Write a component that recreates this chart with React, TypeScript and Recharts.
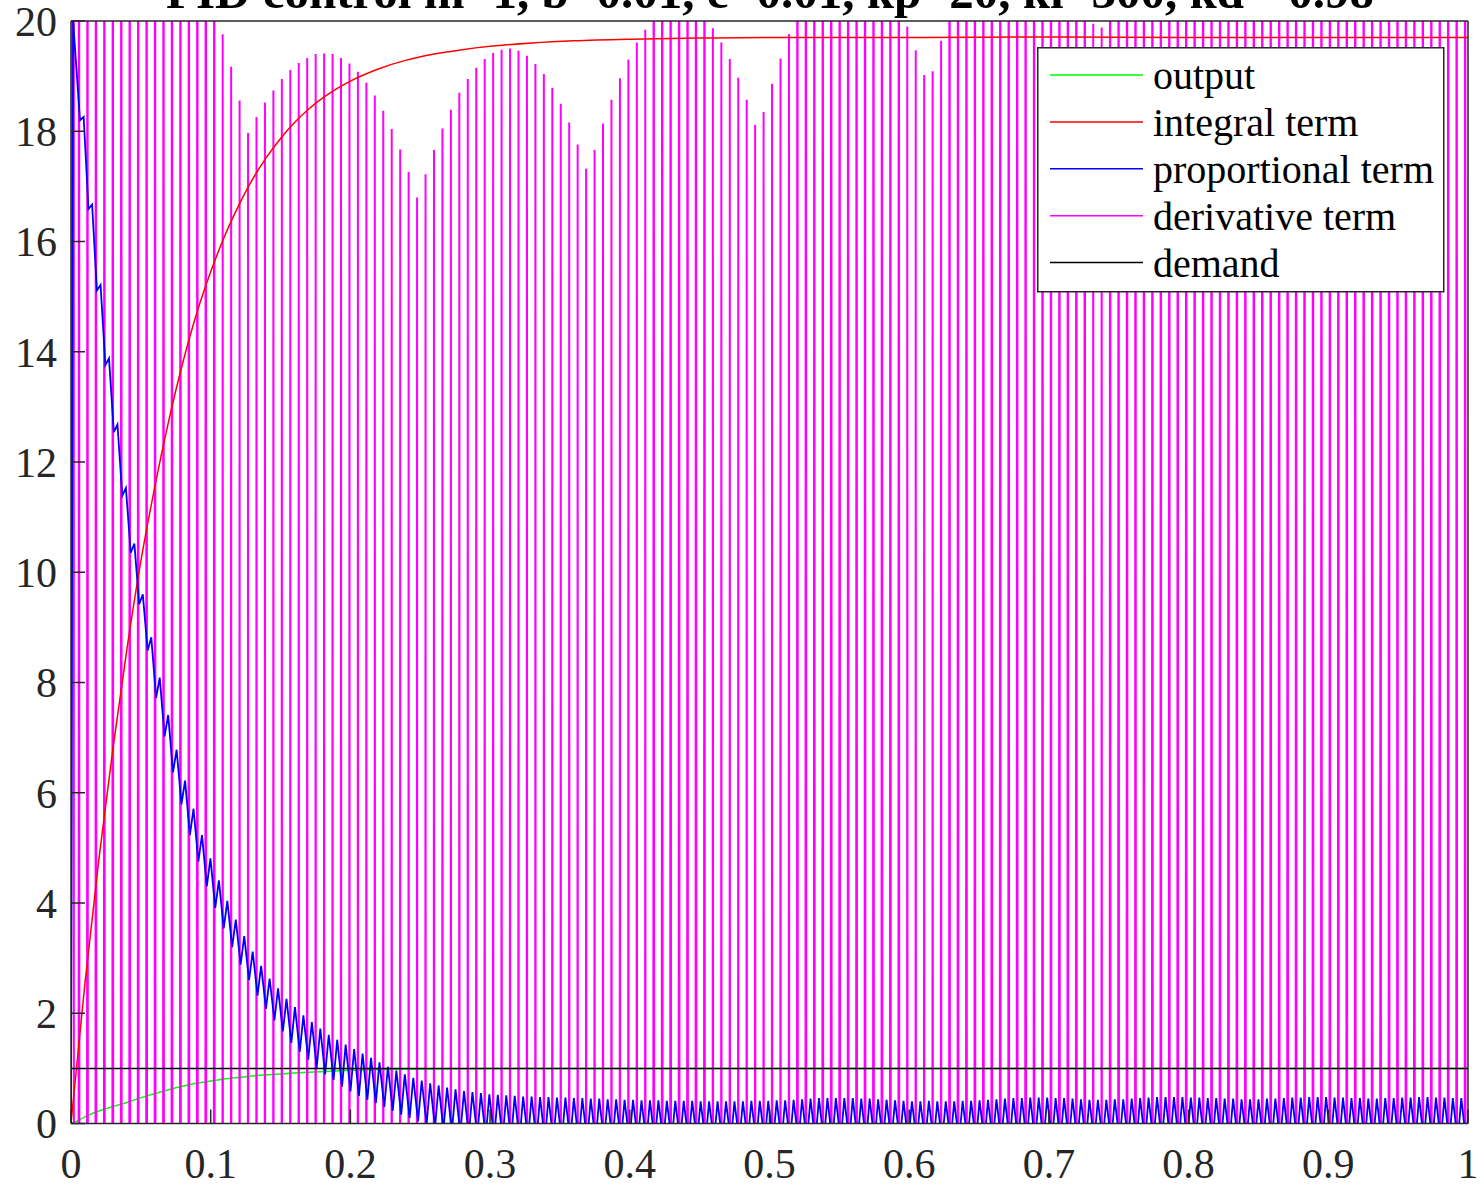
import { Legend, Line, LineChart, XAxis, YAxis } from "recharts";

// derivative spikes that shoot past the top of the axes, and the troughs far below them
const OFF = 40;
const DERIV_LOW = -400;

// spike grid: first spike and spacing, in seconds
const SPIKE_T0 = 0.00573;
const SPIKE_STEP = 0.00605;

const DERIV_PEAKS = [
  OFF, OFF, OFF, OFF, OFF, OFF, OFF, OFF, OFF, OFF, OFF, OFF, OFF, OFF, OFF, OFF, OFF,
  19.76, 19.17, 18.56, 17.97, 18.26, 18.52, 18.74, 18.95, 19.11, 19.24,
  19.33, 19.4, 19.41, 19.4, 19.33, 19.23, 19.08, 18.88, 18.65, 18.37,
  18.04, 17.67, 17.26, 16.8, 17.22, 17.66, 18.05, 18.39, 18.7, 18.95,
  19.15, 19.31, 19.42, 19.48, 19.5, 19.46, 19.37, 19.22, 19.04, 18.79,
  18.5, 18.16, 17.76, 17.32, 17.66, 18.14, 18.57, 18.96, 19.3, 19.61,
  19.84,
  OFF, OFF, OFF, OFF, OFF, OFF, OFF,
  19.87, 19.61, 19.31, 18.97, 18.57, 18.12, 18.35, 18.86, 19.32, 19.76,
  OFF, OFF, OFF, OFF, OFF, OFF, OFF, OFF, OFF, OFF, OFF, OFF, OFF,
  19.9, 19.47, 19.02, 19.09, 19.64,
  OFF, OFF, OFF, OFF, OFF, OFF, OFF, OFF, OFF, OFF, OFF, OFF, OFF, OFF, OFF, OFF, OFF,
  19.95, 19.88,
  OFF, OFF, OFF, OFF, OFF, OFF, OFF, OFF, OFF, OFF, OFF, OFF, OFF, OFF, OFF, OFF, OFF, OFF, OFF, OFF,
  OFF, OFF, OFF, OFF, OFF, OFF, OFF, OFF, OFF, OFF, OFF, OFF, OFF, OFF, OFF, OFF, OFF, OFF, OFF, OFF,
  OFF, OFF, OFF
];

// proportional term: low and high point of each ripple period
const BLUE_MIN = [
  18.2, 16.59, 15.11, 13.76, 12.54, 11.39, 10.35, 9.42, 8.58,
  7.72, 7.02, 6.37, 5.79, 5.23, 4.75, 4.3, 3.91, 3.54, 3.2,
  2.88, 2.6, 2.32, 2.08, 1.87, 1.67, 1.46, 1.3, 1.16, 1.01,
  0.89, 0.79, 0.67, 0.58, 0.5, 0.43, 0.37,
  0.3, 0.23, 0.16, 0.1, 0.04, -0.02, -0.07, -0.11, -0.15, -0.18, -0.21, -0.23,
  -0.25, -0.27, -0.28, -0.29, -0.3, -0.3, -0.31, -0.31, -0.32, -0.32, -0.32, -0.33,
  -0.33, -0.33, -0.33, -0.33, -0.33, -0.33, -0.33, -0.33, -0.33, -0.33,
  -0.33, -0.33, -0.33, -0.33, -0.33, -0.33, -0.33, -0.33, -0.33, -0.33,
  -0.33, -0.33, -0.33, -0.33, -0.33, -0.33, -0.33, -0.33, -0.33, -0.33,
  -0.33, -0.33, -0.33, -0.33, -0.33, -0.33, -0.33, -0.33, -0.33, -0.33,
  -0.33, -0.33, -0.33, -0.33, -0.33, -0.33, -0.33, -0.33, -0.33, -0.33,
  -0.33, -0.33, -0.33, -0.33, -0.33, -0.33, -0.33, -0.33, -0.33, -0.33,
  -0.33, -0.33, -0.33, -0.33, -0.33, -0.33, -0.33, -0.33, -0.33, -0.33,
  -0.33, -0.33, -0.33, -0.33, -0.33, -0.33, -0.33, -0.33, -0.33, -0.33,
  -0.33, -0.33, -0.33, -0.33, -0.33, -0.33, -0.33, -0.33, -0.33, -0.33,
  -0.33, -0.33, -0.33, -0.33, -0.33, -0.33, -0.33, -0.33, -0.33, -0.33,
  -0.33, -0.33, -0.33, -0.33, -0.33
];

const BLUE_MAX = [
  18.26, 16.67, 15.21, 13.88, 12.68, 11.53, 10.52, 9.6, 8.82,
  8.09, 7.41, 6.78, 6.22, 5.71, 5.23, 4.81, 4.41, 4.04, 3.7,
  3.4, 3.12, 2.86, 2.63, 2.45, 2.26, 2.11, 1.96, 1.84, 1.72,
  1.61, 1.52, 1.43, 1.35, 1.27, 1.19, 1.11,
  1.03, 0.96, 0.89, 0.83, 0.78, 0.73, 0.69, 0.65, 0.62, 0.59, 0.57, 0.55,
  0.53, 0.52, 0.51, 0.5, 0.49, 0.49, 0.48, 0.48, 0.47, 0.47, 0.46, 0.46,
  0.45, 0.45, 0.44, 0.44, 0.43, 0.43, 0.42, 0.42, 0.42, 0.41,
  0.41, 0.41, 0.41, 0.4, 0.4, 0.4, 0.4, 0.4, 0.4, 0.41,
  0.41, 0.41, 0.42, 0.42, 0.43, 0.44, 0.45, 0.46, 0.46, 0.46,
  0.46, 0.46, 0.45, 0.45, 0.44, 0.43, 0.42, 0.41, 0.4, 0.4,
  0.41, 0.4, 0.4, 0.4, 0.41, 0.41, 0.42, 0.43, 0.44, 0.45,
  0.46, 0.46, 0.47, 0.47, 0.47, 0.46, 0.46, 0.45, 0.44, 0.43,
  0.43, 0.43, 0.44, 0.44, 0.45, 0.46, 0.47, 0.48, 0.48, 0.48,
  0.48, 0.47, 0.47, 0.46,
  0.46, 0.45, 0.45, 0.44, 0.44, 0.44, 0.45, 0.45, 0.46, 0.47,
  0.47, 0.48, 0.48, 0.48, 0.47, 0.47, 0.46, 0.46, 0.45, 0.45,
  0.46, 0.46, 0.47, 0.47, 0.48, 0.48, 0.47, 0.47, 0.46, 0.46,
  0.46
];

const INTEGRAL_T = [
  0, 0.01, 0.02, 0.03, 0.04, 0.05, 0.06, 0.07, 0.08, 0.09, 0.1,
  0.11, 0.12, 0.13, 0.14, 0.15, 0.16, 0.17, 0.18, 0.19, 0.2,
  0.22, 0.24, 0.26, 0.28, 0.3, 0.33, 0.36, 0.4, 0.45, 0.5, 0.6, 0.7, 0.8, 0.9, 1
];
const INTEGRAL_V = [
  0, 2.55, 4.8, 6.8, 8.6, 10.2, 11.55, 12.75, 13.8, 14.7, 15.45,
  16.1, 16.65, 17.13, 17.53, 17.87, 18.16, 18.4, 18.6, 18.77, 18.91,
  19.13, 19.29, 19.4, 19.48, 19.54, 19.6, 19.64, 19.67, 19.69, 19.7, 19.7, 19.71, 19.7, 19.7, 19.7
];

const OUTPUT_T = [
  0, 0.004, 0.01, 0.016, 0.025, 0.04, 0.05, 0.064, 0.075, 0.0875, 0.1, 0.111,
  0.125, 0.135, 0.15, 0.159, 0.17, 0.183, 0.195, 0.207, 0.22, 0.24, 0.26, 0.28,
  0.3, 0.35, 0.5, 0.7, 1
];
const OUTPUT_V = [
  0, 0.04, 0.12, 0.19, 0.27, 0.38, 0.47, 0.57, 0.65, 0.72, 0.77, 0.81,
  0.85, 0.875, 0.9, 0.915, 0.93, 0.945, 0.96, 0.97, 0.975, 0.985, 0.99, 0.995,
  0.998, 1, 1, 1, 1
];

const DEMAND_T = [0, 1];
const DEMAND_V = [1, 1];

const X_TICKS = [0, 0.1, 0.2, 0.3, 0.4, 0.5, 0.6, 0.7, 0.8, 0.9, 1];
const Y_TICKS = [0, 2, 4, 6, 8, 10, 12, 14, 16, 18, 20];

const TITLE = "PID control m=1, b=0.01, c=0.01, kp=20, ki=300, kd=-0.98";

const SERIES = [
  { name: "output", color: "#00ff00" },
  { name: "integral term", color: "#ff0000" },
  { name: "proportional term", color: "#0000ff" },
  { name: "derivative term", color: "#ff00ff" },
  { name: "demand", color: "#000000" }
];

type Pt = { t: number; v: number };

const zip = (ts: number[], vs: number[]): Pt[] => ts.map((t, i) => ({ t, v: vs[i] }));

const derivData: Pt[] = [{ t: 0, v: 0 }, { t: 0.002, v: OFF }];
DERIV_PEAKS.forEach((p, i) => {
  const t = SPIKE_T0 + i * SPIKE_STEP;
  derivData.push({ t: t - SPIKE_STEP / 2, v: DERIV_LOW }, { t, v: p });
});
derivData.push({ t: SPIKE_T0 + (DERIV_PEAKS.length - 0.5) * SPIKE_STEP, v: DERIV_LOW });

const propData: Pt[] = [{ t: 0, v: 0 }, { t: 0.0015, v: 20 }];
BLUE_MIN.forEach((lo, i) => {
  const t = SPIKE_T0 + i * SPIKE_STEP;
  propData.push({ t: t + 0.12 * SPIKE_STEP, v: lo }, { t: t + 0.55 * SPIKE_STEP, v: BLUE_MAX[i] });
});

const integralData = zip(INTEGRAL_T, INTEGRAL_V);
const outputData = zip(OUTPUT_T, OUTPUT_V);
const demandData = zip(DEMAND_T, DEMAND_V);

const FONT = '"Liberation Serif", "Times New Roman", serif';
const AXIS = "#262626";
const TICK_STYLE = { fontSize: 42, fontFamily: FONT, fill: AXIS };
const AXIS_LINE = { stroke: AXIS, strokeWidth: 1.5 };

function LegendBox() {
  return (
    <svg width={408} height={246} style={{ display: "block" }}>
      <rect x={0.75} y={0.75} width={406} height={244} fill="#fff" stroke={AXIS} strokeWidth={1.5} />
      {SERIES.map((s, i) => (
        <g key={s.name}>
          <line x1={13} x2={106} y1={28 + i * 46.9} y2={28 + i * 46.9} stroke={s.color} strokeWidth={1.5} />
          <text x={116} y={42 + i * 46.9} fontFamily={FONT} fontSize={40} fill="#000">
            {s.name}
          </text>
        </g>
      ))}
    </svg>
  );
}

export default function App() {
  return (
    <div style={{ position: "absolute", left: 0, top: 0, width: 1484, height: 1188, background: "#fff" }}>
      <LineChart width={1484} height={1188} margin={{ top: 20, right: 15, bottom: 63.5, left: 70 }}>
        <XAxis
          dataKey="t"
          type="number"
          domain={[0, 1]}
          ticks={X_TICKS}
          interval={0}
          allowDataOverflow
          height={1}
          tickSize={-14}
          tickMargin={39}
          tick={TICK_STYLE}
          tickFormatter={(v: number) => String(v)}
          axisLine={AXIS_LINE}
          tickLine={AXIS_LINE}
        />
        <XAxis
          xAxisId="top"
          orientation="top"
          type="number"
          domain={[0, 1]}
          ticks={X_TICKS}
          interval={0}
          height={1}
          tickSize={-14}
          tick={false}
          axisLine={AXIS_LINE}
          tickLine={AXIS_LINE}
        />
        <YAxis
          type="number"
          domain={[0, 20]}
          ticks={Y_TICKS}
          interval={0}
          allowDataOverflow
          width={1}
          tickSize={-14}
          tickMargin={28}
          tick={TICK_STYLE}
          axisLine={AXIS_LINE}
          tickLine={AXIS_LINE}
        />
        <YAxis
          yAxisId="right"
          orientation="right"
          type="number"
          domain={[0, 20]}
          ticks={Y_TICKS}
          interval={0}
          width={1}
          tickSize={-14}
          tick={false}
          axisLine={AXIS_LINE}
          tickLine={AXIS_LINE}
        />
        <Line data={outputData} dataKey="v" name="output" stroke="#00ff00" strokeWidth={1.5} dot={false} isAnimationActive={false} />
        <Line data={derivData} dataKey="v" name="derivative term" stroke="#ff00ff" strokeWidth={2} dot={false} isAnimationActive={false} />
        <Line data={integralData} dataKey="v" name="integral term" type="monotone" stroke="#ff0000" strokeWidth={1.5} dot={false} isAnimationActive={false} />
        <Line data={propData} dataKey="v" name="proportional term" stroke="#0000ff" strokeWidth={1.8} dot={false} isAnimationActive={false} />
        <Line data={demandData} dataKey="v" name="demand" stroke="#000000" strokeWidth={1.5} dot={false} isAnimationActive={false} />
        <Legend
          layout="vertical"
          align="center"
          verticalAlign="middle"
          content={() => <LegendBox />}
          wrapperStyle={{ left: 1037, top: 47, width: 408, height: 246 }}
        />
      </LineChart>
      <svg width={1484} height={30} style={{ position: "absolute", left: 0, top: 0 }}>
        <text x={770} y={8} textAnchor="middle" fontFamily={FONT} fontWeight="bold" fontSize={49} fill="#000">
          {TITLE}
        </text>
      </svg>
    </div>
  );
}
